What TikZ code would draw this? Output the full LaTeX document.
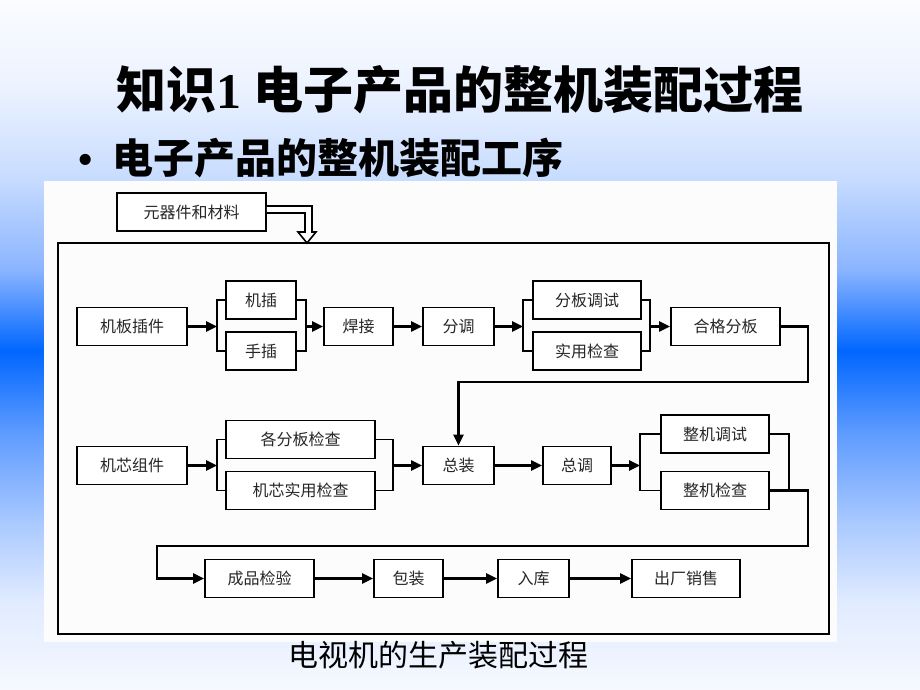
\documentclass[tikz,border=0pt]{standalone}
\usepackage{fontspec}
\setmainfont{Liberation Serif}
\newfontfamily\cjk{Noto Sans CJK SC}
\usetikzlibrary{arrows.meta}
\definecolor{bgA}{HTML}{FBFCFF}
\definecolor{bgB}{HTML}{EBF2FF}
\definecolor{bgC}{HTML}{C6DBFF}
\definecolor{bgD}{HTML}{8AB4FF}
\definecolor{bgE}{HTML}{0066FF}
\definecolor{bgF}{HTML}{5C9AFF}
\definecolor{bgG}{HTML}{A8C8FF}
\definecolor{bgH}{HTML}{E0EBFF}
\definecolor{bgI}{HTML}{F6F9FF}
\begin{document}
\begin{tikzpicture}[x=1pt, y=-1pt, >={Triangle[length=11pt,width=10pt]}]
    \tikzset{box/.style = {draw, line width=1.8pt, fill=white, minimum height=38pt, inner sep=0pt,
                           font=\cjk\fontsize{16}{16}\selectfont, text=black!85}}
    \tikzset{arr/.style = {->, line width=2.6pt}}
    \tikzset{brk/.style = {line width=1.8pt}}
    \tikzset{hollow/.style = {line width=1.6pt, fill=white, line join=miter}}

    \useasboundingbox (0,0) rectangle (920,690);

    % slide background
    \fill[top color=bgA, bottom color=bgB] (0,0) rectangle (920,91);
    \fill[top color=bgB, bottom color=bgC] (0,90) rectangle (920,181);
    \fill[top color=bgC, bottom color=bgD] (0,180) rectangle (920,271);
    \fill[top color=bgD, bottom color=bgE] (0,270) rectangle (920,351);
    \fill[top color=bgE, bottom color=bgF] (0,350) rectangle (920,431);
    \fill[top color=bgF, bottom color=bgG] (0,430) rectangle (920,521);
    \fill[top color=bgG, bottom color=bgH] (0,520) rectangle (920,601);
    \fill[top color=bgH, bottom color=bgI] (0,600) rectangle (920,690);

    \node[font=\cjk\bfseries\fontsize{50}{50}\selectfont] (title) at (460,90)
        {知识{\rmfamily\bfseries 1} 电子产品的整机装配过程};
    \node[anchor=west, font=\cjk\bfseries\fontsize{41}{41}\selectfont, inner sep=0pt] (sub) at (78,158)
        {{\rmfamily •}\hspace{20pt}电子产品的整机装配工序};

    % picture area and frame
    \fill[white!99!black] (44,181) rectangle (837,642);
    \draw[line width=1.8pt] (58,243) rectangle (829,634);
    \coordinate (drop) at (307,243);

    \node[box, minimum width=149pt] (mat) at (191.5,212) {元器件和材料};
    \draw[hollow] ([yshift=6pt]mat.east) -| ([xshift=5pt,yshift=11pt]drop) -- ++(4,0) -- (drop)
        -- ++(-9,-11) -- ++(7,0) |- ([yshift=-1pt]mat.east);

    % row 1
    \node[box, minimum width=110pt] (board) at (132,326.5) {机板插件};
    \node[box, minimum width=70pt] (mach) at (261,300) {机插};
    \node[box, minimum width=70pt] (hand) at (261,351) {手插};
    \node[box, minimum width=69pt] (weld) at (358.5,326.5) {焊接};
    \node[box, minimum width=71pt] (adj) at (458.5,326.5) {分调};
    \node[box, minimum width=108pt] (padj) at (587,300) {分板调试};
    \node[box, minimum width=108pt] (ptest) at (587,351) {实用检查};
    \node[box, minimum width=109pt] (pass) at (725.5,326.5) {合格分板};

    \coordinate (f1) at (217,326.5);
    \coordinate (j1) at (306,326.5);
    \coordinate (f2) at (523,326.5);
    \coordinate (j2) at (650,326.5);
    \coordinate (c1) at (808,382);

    \draw[arr] (board) -- (f1);
    \draw[brk] (mach.west) -| (f1) |- (hand.west);
    \draw[brk] (mach.east) -| (j1) |- (hand.east);
    \draw[arr] (j1) -- (weld);
    \draw[arr] (weld) -- (adj);
    \draw[arr] (adj) -- (f2);
    \draw[brk] (padj.west) -| (f2) |- (ptest.west);
    \draw[brk] (padj.east) -| (j2) |- (ptest.east);
    \draw[arr] (j2) -- (pass);

    % row 2
    \node[box, minimum width=110pt] (core) at (132,465.5) {机芯组件};
    \node[box, minimum width=149pt] (pchk) at (300.5,439.5) {各分板检查};
    \node[box, minimum width=149pt] (cchk) at (300.5,490.5) {机芯实用检查};
    \node[box, minimum width=71pt] (asm) at (458.5,465.5) {总装};
    \node[box, minimum width=68pt] (tadj) at (577,465.5) {总调};
    \node[box, minimum width=108pt] (wadj) at (715,434) {整机调试};
    \node[box, minimum width=108pt] (wchk) at (715,490.5) {整机检查};

    \coordinate (f3) at (217,465.5);
    \coordinate (j3) at (393,465.5);
    \coordinate (f4) at (640,465.5);
    \coordinate (j4) at (789,490.5);
    \coordinate (c2) at (808,546);
    \coordinate (c3) at (157,578.5);

    \draw[arr] (pass.east) -| (c1) -| (asm.north);
    \draw[arr] (core) -- (f3);
    \draw[brk] (pchk.west) -| (f3) |- (cchk.west);
    \draw[brk] (pchk.east) -| (j3) |- (cchk.east);
    \draw[arr] (j3) -- (asm);
    \draw[arr] (asm) -- (tadj);
    \draw[arr] (tadj) -- (f4);
    \draw[brk] (wadj.west) -| (f4) |- (wchk.west);
    \draw[brk] (wadj.east) -| (j4);

    % row 3
    \node[box, minimum width=109pt] (final) at (259.5,578.5) {成品检验};
    \node[box, minimum width=69pt] (pack) at (408.5,578.5) {包装};
    \node[box, minimum width=71pt] (store) at (533.5,578.5) {入库};
    \node[box, minimum width=108pt] (sale) at (686,578.5) {出厂销售};

    \draw[arr] (wchk.east) -| (c2) -| (c3) -- (final);
    \draw[arr] (final) -- (pack);
    \draw[arr] (pack) -- (store);
    \draw[arr] (store) -- (sale);

    \node[font=\cjk\fontsize{30}{30}\selectfont] (cap) at (438,655) {电视机的生产装配过程};
\end{tikzpicture}
\end{document}
